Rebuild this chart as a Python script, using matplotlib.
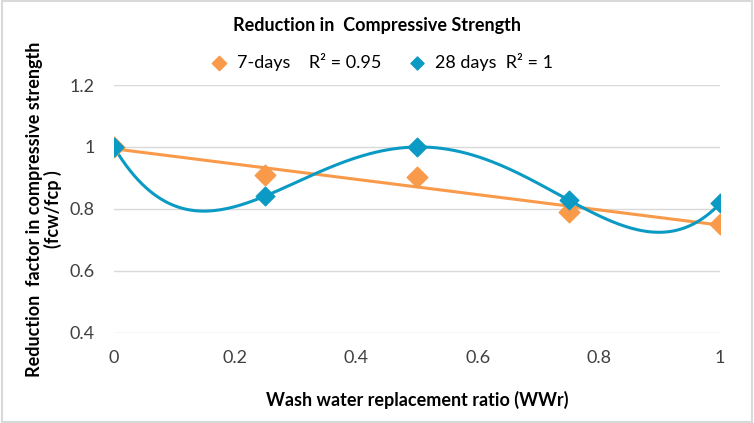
import numpy as np
import matplotlib
matplotlib.use("Agg")
import matplotlib.pyplot as plt
from matplotlib.patches import Rectangle

plt.rcParams['font.family'] = ['Lato', 'DejaVu Sans']

ratio = [0, 0.25, 0.5, 0.75, 1]
days7 = [1.0, 0.91, 0.903, 0.79, 0.752]
days28 = [1.0, 0.842, 1.0, 0.829, 0.818]

orange = '#F99A4A'
blue = '#0B9AC4'

fig = plt.figure(figsize=(7.54, 4.23), dpi=100)
ax = fig.add_axes([0.151, 0.213, 0.804, 0.586])

# trendlines fitted from the points
xs = np.linspace(0, 1, 300)
lin = np.polyfit(ratio, days7, 1)
poly = np.polyfit(ratio, days28, 4)
ax.plot(xs, np.polyval(lin, xs), color=orange, lw=2.2, zorder=2)
ax.plot(xs, np.polyval(poly, xs), color=blue, lw=2.2, zorder=2)

ax.scatter(ratio, days7, marker='D', s=110, color=orange, zorder=3,
           label='7-days    R² = 0.95')
ax.scatter(ratio, days28, marker='D', s=90, color=blue, zorder=4,
           label='28 days  R² = 1')

ax.set_xlim(0, 1)
ax.set_ylim(0.4, 1.2)
ax.set_xticks([0, 0.2, 0.4, 0.6, 0.8, 1])
ax.set_xticklabels(['0', '0.2', '0.4', '0.6', '0.8', '1'])
ax.set_yticks([0.4, 0.6, 0.8, 1, 1.2])
ax.set_yticklabels(['0.4', '0.6', '0.8', '1', '1.2'])
ax.tick_params(length=0, labelsize=13, colors='#404040')
ax.tick_params(axis='x', pad=12)
ax.tick_params(axis='y', pad=14)
for s in ax.spines.values():
    s.set_visible(False)
ax.yaxis.grid(True, color='#d9d9d9', lw=1)
ax.set_axisbelow(True)

ax.set_xlabel('Wash water replacement ratio (WWr)', fontsize=13,
              fontweight='bold', labelpad=18)
ax.set_ylabel('Reduction  factor in compressive strength\n(fcw/fcp )',
              fontsize=13, fontweight='bold', labelpad=5, linespacing=1.1)
fig.text(0.5, 0.94, 'Reduction in  Compressive Strength', ha='center',
         va='center', fontsize=13, fontweight='bold')
fig.legend(loc='center', bbox_to_anchor=(0.5, 0.853), ncol=2, frameon=False,
           fontsize=13, handletextpad=0.0, columnspacing=1.0,
           scatterpoints=1, markerscale=0.7)

fig.patches.append(Rectangle((0.002, 0.003), 0.996, 0.994, transform=fig.transFigure,
                             fill=False, edgecolor='#d9d9d9', lw=1.5))

fig.savefig('out.png', dpi=100)
